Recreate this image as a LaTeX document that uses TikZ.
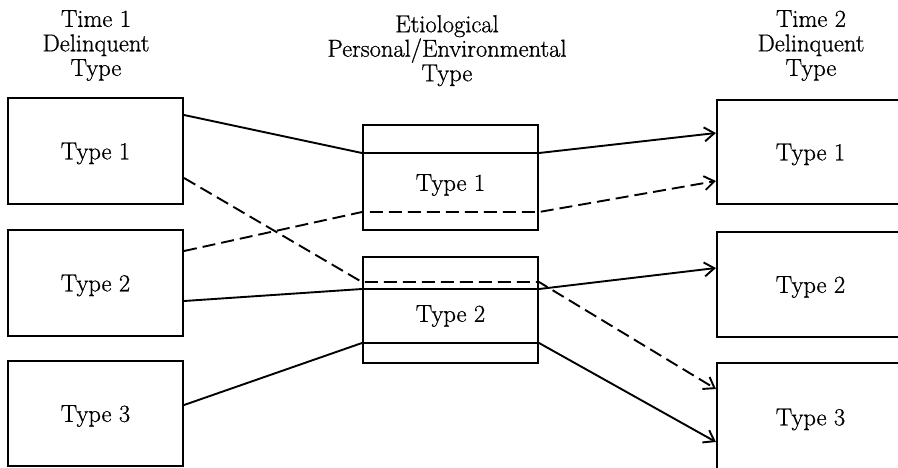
\documentclass[tikz,border=0pt]{standalone}
\usepackage{fontspec}
\usetikzlibrary{arrows.meta}
\newfontfamily\diafont{Latin Modern Roman}[FakeBold=0.8]
\begin{document}
\begin{tikzpicture}[x=1pt,y=-1pt,
  txt/.style={font=\diafont\fontsize{24.5}{24.5}\selectfont},
  box/.style={draw,line width=2.1pt,inner sep=0pt,txt,text depth=0pt},
  lbox/.style={box,minimum width=175pt},
  rbox/.style={box,minimum width=187pt},
  hdr/.style={txt,align=center,inner sep=0pt,anchor=north},
  conn/.style={line width=1.9pt},
  arr/.style={-{Straight Barb[length=10pt,width=14pt,line width=1.9pt]}},
  dsh/.style={dash pattern=on 13pt off 6pt}]
\useasboundingbox (0,0) rectangle (898,467);
\clip (0,0) rectangle (898,467);

% headers
\node[hdr] (h1) at (96,10) {Time 1\\Delinquent\\Type};
\node[hdr] (h2) at (447,15) {Etiological\\Personal/Environmental\\Type};
\node[hdr] (h3) at (811,10) {Time 2\\Delinquent\\Type};

% left column
\node[lbox,minimum height=106pt] (L1) at (95.5,151) {Type 1};
\node[lbox,minimum height=106pt] (L2) at (95.5,283) {Type 2};
\node[lbox,minimum height=105pt] (L3) at (95.5,413.5) {Type 3};

% middle column
\node[lbox,minimum height=105pt,label={[txt,text depth=0pt,yshift=-5pt]center:Type 1}] (M1) at (450.5,177.5) {};
\node[lbox,minimum height=106pt,label={[txt,text depth=0pt,yshift=-3.5pt]center:Type 2}] (M2) at (450.5,310) {};

% right column
\node[rbox,minimum height=104pt] (R1) at (810.5,152) {Type 1};
\node[rbox,minimum height=105pt] (R2) at (810.5,284.5) {Type 2};
\node[rbox,minimum height=108pt] (R3) at (810.5,417) {Type 3};

% connectors
\draw[conn,arr] ([yshift=36pt]L1.east) -- ([yshift=24.5pt]M1.west) -- ([yshift=24.5pt]M1.east) -- ([yshift=19pt]R1.west);
\draw[conn,arr,dsh] ([yshift=-27pt]L1.east) -- ([yshift=28pt]M2.west) -- ([yshift=28pt]M2.east) -- ([yshift=28pt]R3.west);
\draw[conn,arr,dsh] ([yshift=32pt]L2.east) -- ([yshift=-34.5pt]M1.west) -- ([yshift=-34.5pt]M1.east) -- ([yshift=-29pt]R1.west);
\draw[conn,arr] ([yshift=-18pt]L2.east) -- ([yshift=21pt]M2.west) -- ([yshift=21pt]M2.east) -- ([yshift=16.5pt]R2.west);
\draw[conn,arr] ([yshift=8.5pt]L3.east) -- ([yshift=-33pt]M2.west) -- ([yshift=-33pt]M2.east) -- ([yshift=-25pt]R3.west);
\end{tikzpicture}
\end{document}
